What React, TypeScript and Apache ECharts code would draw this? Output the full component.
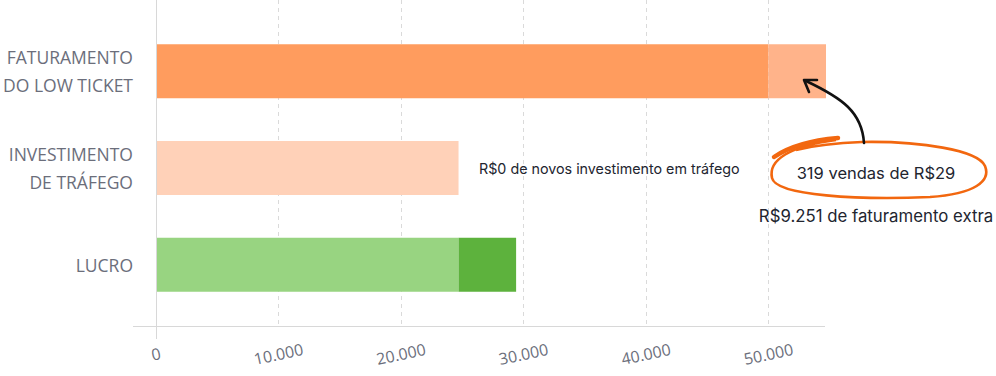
import React, { useEffect, useRef } from "react";
import * as echarts from "echarts";

const categories = ["FATURAMENTO\nDO LOW TICKET", "INVESTIMENTO\nDE TRÁFEGO", "LUCRO"];
const baseValues = [50000, 24700, 24700];
const extraValues = [4700, 0, 4700];
const baseColors = ["#FF9C5E", "#FFD1B8", "#98D481"];
const extraColors = ["#FFB38A", "#FFD1B8", "#5DB23D"];
const axisMax = 54700;
const tickInterval = 10000;
const noteInvest = "R$0 de novos investimento em tráfego";
const noteSales = "319 vendas de R$29";
const noteExtra = "R$9.251 de faturamento extra";

const OVAL_LOOP =
  "M 836 140 C 790 146 768 160 772 178 C 776 196 860 200 930 197 C 975 194 991 181 985 166 C 978 150 920 141 862 142 C 832 143 812 146 796 150";
const OVAL_THICK = "M 774 157 C 790 146 815 140 838 138";
const ARROW_CURVE = "M 864 143 C 862 112 842 98 806 81";
const ARROW_HEAD = "M 809 92 L 804 80 L 817 80";

let registered = false;
function registerShapes() {
  if (registered) return;
  registered = true;
  echarts.graphic.registerShape("ovalLoop", echarts.graphic.extendPath(OVAL_LOOP, {}));
  echarts.graphic.registerShape("ovalThick", echarts.graphic.extendPath(OVAL_THICK, {}));
  echarts.graphic.registerShape("arrowCurve", echarts.graphic.extendPath(ARROW_CURVE, {}));
  echarts.graphic.registerShape("arrowHead", echarts.graphic.extendPath(ARROW_HEAD, {}));
}

export default function App() {
  const ref = useRef<HTMLDivElement>(null);
  useEffect(() => {
    if (!ref.current) return;
    registerShapes();
    const chart = echarts.init(ref.current, null, { renderer: "svg" });
    const font = "'Open Sans', Inter, sans-serif";
    const noteFont = "Inter, 'Open Sans', sans-serif";
    const gray = "#6B6E7B";
    const dark = "#22252F";
    chart.setOption({
      animation: false,
      textStyle: { fontFamily: font },
      grid: [
        { left: 156, right: 170, top: 0, bottom: 50, outerBoundsMode: "none", containLabel: false },
        { left: 156, right: 170, top: 23, bottom: 63, outerBoundsMode: "none", containLabel: false },
      ],
      xAxis: [
        {
          gridIndex: 0,
          type: "value",
          min: 0,
          max: axisMax,
          interval: tickInterval,
          axisLine: { show: false },
          axisTick: { show: false },
          splitLine: {
            show: true,
            showMinLine: false,
            showMaxLine: false,
            lineStyle: { color: "#DADADA", type: [4, 4], width: 1 },
          },
          axisLabel: {
            showMaxLabel: false,
            rotate: 12,
            align: "center",
            verticalAlign: "middle",
            margin: 28,
            color: gray,
            fontSize: 16,
            fontFamily: font,
            formatter: (v: number) => (v % tickInterval === 0 ? v.toLocaleString("pt-BR") : ""),
          },
        },
        { gridIndex: 1, type: "value", min: 0, max: axisMax, show: false },
      ],
      yAxis: [
        { gridIndex: 0, type: "value", show: false },
        {
          gridIndex: 1,
          type: "category",
          inverse: true,
          data: categories,
          axisLine: { show: false },
          axisTick: { show: false },
          axisLabel: {
            margin: 23,
            color: gray,
            fontSize: 17.5,
            lineHeight: 28,
            align: "right",
            fontFamily: font,
          },
        },
      ],
      series: [
        {
          type: "bar",
          xAxisIndex: 1,
          yAxisIndex: 1,
          stack: "total",
          barWidth: 54,
          data: baseValues.map((v, i) => ({ value: v, itemStyle: { color: baseColors[i] } })),
        },
        {
          type: "bar",
          xAxisIndex: 1,
          yAxisIndex: 1,
          stack: "total",
          barWidth: 54,
          data: extraValues.map((v, i) => ({ value: v, itemStyle: { color: extraColors[i] } })),
        },
      ],
      graphic: [
        { type: "line", z: 100, shape: { x1: 156.5, y1: 0, x2: 156.5, y2: 339 }, style: { stroke: "#D8D8D8", lineWidth: 1 } },
        { type: "line", z: 100, shape: { x1: 133, y1: 326.5, x2: 825, y2: 326.5 }, style: { stroke: "#D8D8D8", lineWidth: 1 } },
        {
          type: "text",
          z: 100,
          x: 479,
          y: 168,
          style: { text: noteInvest, fill: dark, font: `14.3px ${noteFont}`, align: "left", verticalAlign: "middle" },
        },
        { type: "ovalLoop", z: 100, style: { stroke: "#F2670F", fill: "none", lineWidth: 2.6 } },
        { type: "ovalThick", z: 100, style: { stroke: "#F2670F", fill: "none", lineWidth: 4.5, lineCap: "round" } },
        { type: "arrowCurve", z: 100, style: { stroke: "#111111", fill: "none", lineWidth: 2.6, lineCap: "round" } },
        { type: "arrowHead", z: 100, style: { stroke: "#111111", fill: "none", lineWidth: 2.6, lineCap: "round", lineJoin: "round" } },
        {
          type: "text",
          z: 100,
          x: 876,
          y: 173,
          style: { text: noteSales, fill: dark, font: `16.5px ${noteFont}`, align: "center", verticalAlign: "middle" },
        },
        {
          type: "text",
          z: 100,
          x: 876,
          y: 216,
          style: { text: noteExtra, fill: dark, font: `16.8px ${noteFont}`, align: "center", verticalAlign: "middle" },
        },
      ],
    });
    return () => chart.dispose();
  }, []);
  return <div ref={ref} style={{ width: 996, height: 376, position: "absolute", left: 0, top: 0 }} />;
}
